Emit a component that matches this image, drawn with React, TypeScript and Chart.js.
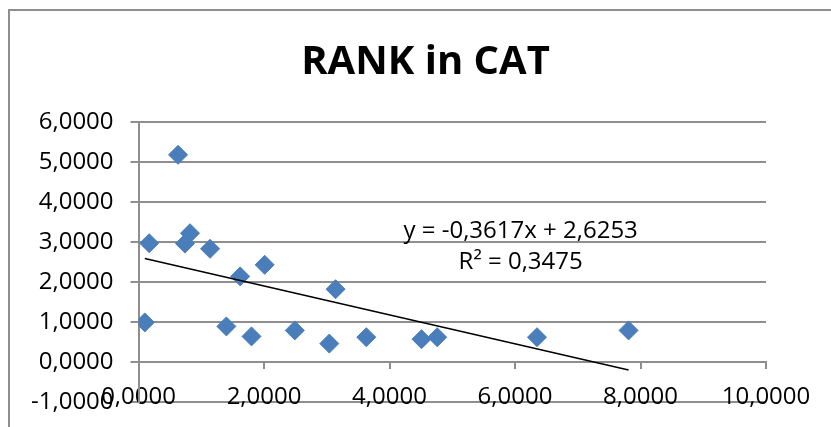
import React, { useEffect, useRef } from 'react';
import { Chart, registerables } from 'chart.js';

Chart.register(...registerables);

// Scatter values
const xValues = [0.10, 0.17, 0.63, 0.74, 0.82, 1.14, 1.40, 1.62, 1.80, 2.01, 2.49, 3.04, 3.14, 3.63, 4.51, 4.76, 6.35, 7.81];
const yValues = [0.99, 2.97, 5.18, 2.96, 3.22, 2.83, 0.89, 2.14, 0.64, 2.43, 0.79, 0.46, 1.82, 0.62, 0.57, 0.62, 0.62, 0.79];

// Linear trendline
const slope = -0.3617;
const intercept = 2.6253;
const rSquared = 0.3475;

const titleText = 'RANK in CAT';

// Axis ranges
const xMin = 0;
const xMax = 10;
const xStep = 2;
const yMin = -1;
const yMax = 6;
const yStep = 1;

const FONT = '"Open Sans", "Noto Sans", sans-serif';
const GRID = '#8e8e8e';
const MARKER = '#4a7ebb';

const fmt = (v: number) => v.toFixed(4).replace('.', ',');

const chartDecor = {
  id: 'chartDecor',
  beforeDraw(chart: any) {
    const { ctx, width, height } = chart;
    ctx.save();
    ctx.fillStyle = '#ffffff';
    ctx.fillRect(0, 0, width, height);
    // chart frame (left and top edges)
    ctx.strokeStyle = GRID;
    ctx.lineWidth = 2;
    ctx.beginPath();
    ctx.moveTo(9, height + 2);
    ctx.lineTo(9, 10);
    ctx.lineTo(width + 2, 10);
    ctx.stroke();
    ctx.restore();
  },
  afterDraw(chart: any) {
    const { ctx, width, scales } = chart;
    ctx.save();
    ctx.fillStyle = '#000000';
    ctx.textAlign = 'center';
    ctx.textBaseline = 'middle';
    ctx.font = `bold 40px ${FONT}`;
    ctx.fillText(titleText, width / 2 + 10, 63);

    // trendline equation, anchored in data space
    const ex = scales.x.getPixelForValue(6.09);
    const ey = scales.y.getPixelForValue(3.26);
    ctx.font = `24px ${FONT}`;
    ctx.fillText(`y = ${fmt(slope)}x + ${fmt(intercept)}`, ex, ey);
    ctx.fillText(`R² = ${fmt(rSquared)}`, ex, ey + 31);
    ctx.restore();
  },
};

export default function App() {
  const canvasRef = useRef<HTMLCanvasElement | null>(null);

  useEffect(() => {
    if (!canvasRef.current) return;
    const points = xValues.map((x, i) => ({ x, y: yValues[i] }));
    const lo = Math.min(...xValues);
    const hi = Math.max(...xValues);
    const trend = [lo, hi].map((x) => ({ x, y: slope * x + intercept }));

    const chart = new Chart(canvasRef.current, {
      type: 'scatter',
      data: {
        datasets: [
          {
            type: 'line',
            label: 'Linear (RANK in CAT)',
            data: trend,
            borderColor: '#000000',
            borderWidth: 1.5,
            pointRadius: 0,
            fill: false,
            order: 0,
          },
          {
            label: 'RANK in CAT',
            data: points,
            pointStyle: 'rectRot',
            pointRadius: 9.5,
            pointBackgroundColor: MARKER,
            pointBorderColor: MARKER,
            pointBorderWidth: 1,
            showLine: false,
            order: 1,
          },
        ],
      },
      options: {
        responsive: false,
        animation: false,
        devicePixelRatio: 1,
        layout: { padding: { left: 14, right: 65, top: 122, bottom: 25 } },
        plugins: {
          legend: { display: false },
          title: { display: false },
          tooltip: { enabled: false },
        },
        scales: {
          x: {
            type: 'linear',
            position: { y: 0 },
            min: xMin,
            max: xMax,
            ticks: {
              stepSize: xStep,
              padding: 15,
              color: '#000000',
              font: { family: FONT, size: 24 },
              callback: (v: any) => fmt(Number(v)),
            },
            grid: {
              drawOnChartArea: false,
              drawTicks: true,
              tickLength: 6,
              color: GRID,
              lineWidth: 2,
            },
            border: { display: true, color: GRID, width: 2 },
          },
          y: {
            type: 'linear',
            position: 'left',
            min: yMin,
            max: yMax,
            afterFit: (scale: any) => {
              // labels may overhang the plot area vertically
              scale.paddingTop = 0;
              scale.paddingBottom = 0;
            },
            ticks: {
              stepSize: yStep,
              padding: 17,
              color: '#000000',
              font: { family: FONT, size: 24 },
              callback: (v: any) => fmt(Number(v)),
            },
            grid: {
              color: GRID,
              lineWidth: 2,
              tickLength: 8,
              drawTicks: true,
            },
            border: { display: true, color: GRID, width: 2 },
          },
        },
      },
      plugins: [chartDecor],
    });
    return () => chart.destroy();
  }, []);

  return (
    <div style={{ position: 'absolute', left: 0, top: 0, width: 831, height: 427 }}>
      <canvas ref={canvasRef} width={831} height={427} />
    </div>
  );
}
